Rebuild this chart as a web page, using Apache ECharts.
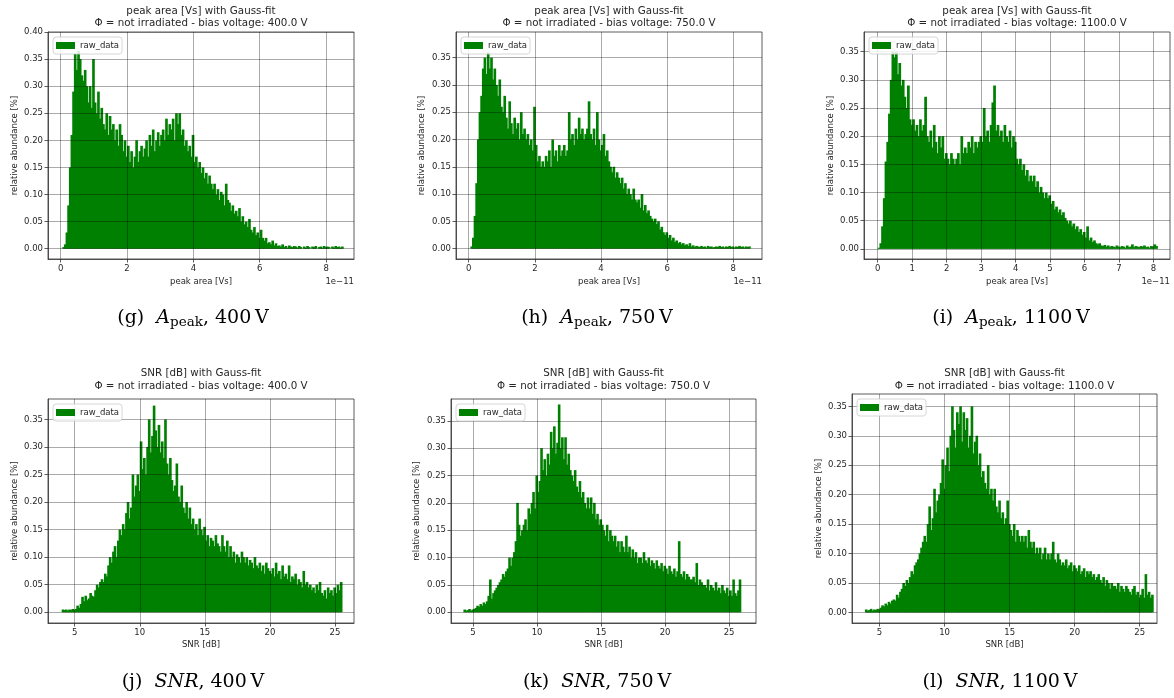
<!DOCTYPE html>
<html>
<head>
<meta charset="utf-8">
<script src="https://cdn.jsdelivr.net/npm/echarts@6/dist/echarts.min.js"></script>
<style>
  html, body { margin: 0; padding: 0; background: #fff; }
  #chart { width: 1174px; height: 698px; }
</style>
</head>
<body>
<div id="chart"></div>
<script>
// ---- histogram data: relative abundance [%] per bin ----
// peak area bins (units of 1e-11 Vs), width 0.05
const peakBinWidth = 0.05;
// SNR bins (dB), width 0.125
const snrBinWidth = 0.125;
// left edge of the first bin of each histogram (g, h, i, j, k, l)
const binStarts = [0.05, 0.05, 0.0, 4.0, 4.25, 3.875];

const peakArea400 = [
  0.003,0.008,0.03,0.08,0.15,0.21,0.29,0.36,0.33,0.365,
  0.35,0.32,0.31,0.33,0.30,0.27,0.30,0.26,0.35,0.27,
  0.25,0.29,0.24,0.26,0.23,0.22,0.25,0.21,0.245,0.22,
  0.23,0.20,0.22,0.19,0.23,0.21,0.18,0.20,0.17,0.19,
  0.16,0.18,0.15,0.17,0.20,0.16,0.18,0.19,0.17,0.185,
  0.20,0.17,0.21,0.19,0.22,0.18,0.20,0.215,0.19,0.21,
  0.22,0.20,0.24,0.21,0.23,0.22,0.24,0.20,0.25,0.23,
  0.25,0.21,0.22,0.19,0.20,0.18,0.19,0.17,0.21,0.16,
  0.17,0.15,0.16,0.14,0.15,0.13,0.14,0.12,0.135,0.12,
  0.11,0.12,0.10,0.11,0.09,0.105,0.10,0.08,0.12,0.09,
  0.085,0.07,0.08,0.065,0.07,0.06,0.075,0.05,0.06,0.045,
  0.05,0.04,0.055,0.035,0.03,0.04,0.025,0.03,0.02,0.035,
  0.02,0.015,0.02,0.01,0.012,0.008,0.015,0.006,0.01,0.005,
  0.006,0.004,0.008,0.003,0.005,0.002,0.006,0.004,0.003,0.005,
  0.004,0.002,0.005,0.003,0,0.004,0.002,0.005,0.003,0,
  0.004,0.003,0.005,0,0.003,0.004,0.002,0.005,0.003,0.004,
  0.003,0,0.004,0.002,0.005,0.003,0.004,0.002,0.004
];

const peakArea750 = [
  0.004,0.02,0.06,0.12,0.20,0.25,0.28,0.33,0.35,0.32,
  0.36,0.33,0.35,0.31,0.33,0.30,0.28,0.31,0.26,0.25,
  0.28,0.24,0.22,0.27,0.23,0.21,0.24,0.22,0.23,0.20,
  0.25,0.21,0.22,0.20,0.21,0.19,0.20,0.18,0.26,0.19,
  0.16,0.17,0.15,0.16,0.15,0.17,0.16,0.18,0.15,0.20,
  0.17,0.18,0.16,0.19,0.17,0.18,0.19,0.17,0.18,0.25,
  0.20,0.21,0.19,0.22,0.20,0.24,0.21,0.22,0.20,0.21,
  0.22,0.27,0.21,0.20,0.22,0.19,0.25,0.20,0.18,0.19,
  0.21,0.17,0.18,0.16,0.15,0.14,0.15,0.13,0.14,0.13,
  0.12,0.13,0.11,0.12,0.10,0.11,0.10,0.09,0.11,0.09,
  0.085,0.09,0.075,0.10,0.07,0.08,0.065,0.07,0.06,0.055,
  0.05,0.055,0.045,0.05,0.035,0.04,0.03,0.025,0.03,0.02,
  0.025,0.015,0.02,0.012,0.015,0.01,0.012,0.008,0.01,0.006,
  0.008,0.005,0.01,0.004,0.006,0.003,0.005,0.004,0.003,0.005,
  0.003,0.004,0.002,0.005,0.003,0.004,0.002,0.003,0.004,0.003,
  0.005,0.003,0.004,0.002,0.004,0.003,0.005,0.003,0.004,0.002,
  0.004,0.003,0.005,0.003,0.004,0.002,0.004,0.003,0.004
];

const peakArea1100 = [
  0.002,0.01,0.04,0.09,0.155,0.19,0.24,0.30,0.35,0.34,
  0.35,0.31,0.33,0.29,0.30,0.27,0.25,0.29,0.23,0.22,
  0.23,0.21,0.22,0.20,0.23,0.21,0.22,0.27,0.20,0.19,
  0.21,0.18,0.22,0.19,0.17,0.20,0.18,0.20,0.16,0.17,
  0.16,0.15,0.17,0.16,0.15,0.16,0.17,0.15,0.20,0.17,
  0.18,0.17,0.19,0.18,0.20,0.17,0.19,0.18,0.19,0.20,
  0.19,0.25,0.20,0.21,0.19,0.22,0.26,0.29,0.21,0.22,
  0.20,0.21,0.19,0.22,0.20,0.19,0.21,0.18,0.20,0.19,
  0.16,0.15,0.16,0.14,0.15,0.13,0.14,0.12,0.13,0.12,
  0.13,0.11,0.12,0.10,0.11,0.10,0.09,0.10,0.09,0.095,
  0.08,0.085,0.07,0.075,0.065,0.07,0.06,0.065,0.055,0.05,
  0.045,0.05,0.04,0.045,0.035,0.04,0.03,0.035,0.025,0.03,
  0.02,0.04,0.015,0.02,0.012,0.015,0.01,0.008,0.01,0.006,
  0.005,0.007,0.004,0.006,0.003,0.005,0.004,0.003,0.006,0.004,
  0.003,0.005,0.004,0.002,0.006,0.003,0.004,0.008,0.003,0.005,
  0.004,0.003,0.005,0.004,0.006,0.003,0.004,0.002,0.005,0.004,
  0.008,0.005
];

const snr400 = [
  0.005,0.004,0.005,0.003,0.005,0.004,0.006,0.004,
  0.006,0.012,0.008,0.015,0.028,0.02,0.03,0.022,
  0.025,0.035,0.03,0.028,0.04,0.05,0.045,0.055,
  0.06,0.055,0.07,0.065,0.085,0.10,0.09,0.11,
  0.12,0.10,0.13,0.15,0.14,0.16,0.15,0.18,
  0.20,0.17,0.19,0.25,0.21,0.23,0.25,0.22,
  0.31,0.26,0.28,0.25,0.30,0.35,0.29,0.32,
  0.375,0.33,0.30,0.34,0.29,0.31,0.28,0.35,
  0.27,0.25,0.28,0.24,0.22,0.23,0.27,0.21,
  0.20,0.23,0.19,0.18,0.20,0.17,0.19,0.16,
  0.17,0.15,0.16,0.14,0.17,0.15,0.14,0.155,
  0.13,0.14,0.12,0.135,0.13,0.12,0.14,0.125,
  0.12,0.11,0.14,0.12,0.11,0.13,0.10,0.12,
  0.10,0.11,0.09,0.105,0.10,0.09,0.11,0.10,
  0.09,0.10,0.085,0.095,0.09,0.08,0.10,0.085,
  0.08,0.09,0.075,0.085,0.07,0.09,0.08,0.075,
  0.07,0.08,0.065,0.09,0.07,0.075,0.06,0.085,
  0.065,0.07,0.06,0.085,0.055,0.065,0.06,0.07,
  0.05,0.06,0.055,0.045,0.075,0.05,0.055,0.045,
  0.05,0.04,0.045,0.035,0.05,0.04,0.055,0.035,
  0.03,0.04,0.025,0.045,0.035,0.04,0.03,0.045,
  0.035,0.05,0.04,0.055
];

const snr750 = [
  0.005,0.003,0.004,0.006,0.003,0.005,
  0.006,0.008,0.012,0.01,0.015,0.012,0.018,0.015,
  0.02,0.03,0.06,0.025,0.035,0.04,0.045,0.05,
  0.055,0.06,0.07,0.065,0.075,0.08,0.10,0.085,
  0.10,0.11,0.13,0.20,0.16,0.14,0.15,0.16,
  0.17,0.15,0.19,0.18,0.20,0.22,0.19,0.25,
  0.22,0.24,0.30,0.26,0.28,0.25,0.29,0.27,
  0.33,0.30,0.34,0.29,0.31,0.38,0.30,0.32,
  0.28,0.32,0.27,0.29,0.26,0.25,0.24,0.26,
  0.23,0.22,0.24,0.21,0.22,0.20,0.19,0.21,
  0.19,0.21,0.18,0.20,0.17,0.18,0.16,0.17,
  0.16,0.15,0.14,0.16,0.13,0.15,0.14,0.13,
  0.14,0.12,0.13,0.11,0.13,0.12,0.11,0.14,
  0.11,0.12,0.10,0.115,0.10,0.11,0.09,0.10,
  0.10,0.09,0.11,0.095,0.09,0.10,0.085,0.095,
  0.09,0.08,0.095,0.085,0.08,0.09,0.075,0.085,
  0.08,0.07,0.085,0.075,0.07,0.08,0.065,0.075,
  0.13,0.07,0.065,0.075,0.06,0.07,0.065,0.06,
  0.06,0.065,0.055,0.09,0.05,0.06,0.055,0.05,
  0.05,0.045,0.06,0.04,0.05,0.045,0.04,0.055,
  0.04,0.045,0.035,0.05,0.04,0.035,0.045,0.03,
  0.04,0.03,0.06,0.035,0.03,0.04,0.06
];

const snr1100 = [
  0.005,0.003,0.004,0.006,0.003,0.005,0.004,0.006,0.005,
  0.008,0.012,0.01,0.015,0.012,0.018,0.015,0.02,
  0.022,0.02,0.03,0.025,0.035,0.04,0.05,0.045,
  0.055,0.05,0.06,0.07,0.065,0.08,0.085,0.09,
  0.10,0.11,0.12,0.13,0.12,0.15,0.18,0.14,
  0.16,0.21,0.17,0.19,0.20,0.22,0.26,0.21,
  0.25,0.28,0.24,0.30,0.35,0.31,0.28,0.34,
  0.32,0.35,0.29,0.34,0.31,0.33,0.28,0.30,
  0.35,0.27,0.29,0.30,0.25,0.27,0.23,0.24,
  0.22,0.21,0.25,0.20,0.21,0.19,0.21,0.18,
  0.17,0.19,0.16,0.17,0.15,0.16,0.19,0.15,
  0.14,0.13,0.15,0.12,0.14,0.13,0.12,0.13,
  0.12,0.13,0.11,0.14,0.12,0.11,0.12,0.10,
  0.11,0.10,0.11,0.09,0.10,0.11,0.09,0.10,
  0.09,0.10,0.12,0.09,0.085,0.10,0.09,0.08,
  0.085,0.08,0.09,0.075,0.08,0.085,0.07,0.08,
  0.075,0.07,0.08,0.065,0.07,0.075,0.06,0.07,
  0.065,0.07,0.06,0.065,0.055,0.06,0.065,0.055,
  0.05,0.06,0.045,0.055,0.05,0.04,0.05,0.045,
  0.045,0.04,0.05,0.035,0.045,0.04,0.035,0.045,
  0.04,0.035,0.03,0.04,0.045,0.03,0.035,0.025,
  0.03,0.04,0.025,0.065,0.03,0.035,0.025,0.03
];

// ---- tick values ----
const yTickValues = [0, 0.05, 0.1, 0.15, 0.2, 0.25, 0.3, 0.35, 0.4];
const peakTicksEven = [0, 2, 4, 6, 8];
const peakTicksAll = [0, 1, 2, 3, 4, 5, 6, 7, 8];
const snrTicks = [5, 10, 15, 20, 25];

// ---- text ----
const voltages = ['400.0', '750.0', '1100.0', '400.0', '750.0', '1100.0'];
const captionLetters = ['g', 'h', 'i', 'j', 'k', 'l'];
const captionVolts = ['400', '750', '1100', '400', '750', '1100'];

// ---- panel layout (pixel boxes and axis windows) ----
const panels = [
  { values: peakArea400, start: binStarts[0], bin: peakBinWidth, kind: 'peak',
    box: [48, 32, 306, 227], xr: [-0.38, 8.84], yr: [-0.019, 0.40], xt: peakTicksEven,
    yName: 15, titleY: [11, 23.3], cap: [193, 318] },
  { values: peakArea750, start: binStarts[1], bin: peakBinWidth, kind: 'peak',
    box: [456, 32, 306, 227], xr: [-0.384, 8.87], yr: [-0.019, 0.397], xt: peakTicksEven,
    yName: 422, titleY: [11, 23.3], cap: [597, 318] },
  { values: peakArea1100, start: binStarts[2], bin: peakBinWidth, kind: 'peak',
    box: [864, 32, 306, 227], xr: [-0.398, 8.48], yr: [-0.018, 0.385], xt: peakTicksAll,
    yName: 831, titleY: [11, 23.3], cap: [1011, 318] },
  { values: snr400, start: binStarts[3], bin: snrBinWidth, kind: 'snr',
    box: [48, 399, 306, 224], xr: [2.95, 26.46], yr: [-0.0195, 0.387], xt: snrTicks,
    yName: 15, titleY: [373, 386], cap: [193, 682] },
  { values: snr750, start: binStarts[4], bin: snrBinWidth, kind: 'snr',
    box: [451, 399, 305, 224], xr: [3.28, 27.1], yr: [-0.0196, 0.39], xt: snrTicks,
    yName: 417, titleY: [373, 386], cap: [597, 682] },
  { values: snr1100, start: binStarts[5], bin: snrBinWidth, kind: 'snr',
    box: [852, 394, 305, 229], xr: [2.88, 26.33], yr: [-0.018, 0.371], xt: snrTicks,
    yName: 819, titleY: [373, 386], cap: [1000, 682] }
];

const SANS = '"DejaVu Sans", sans-serif';
const SERIF = '"DejaVu Serif", serif';
const TEXT = '#262626';
const BAR = '#008000';

// one histogram bin: [left edge, right edge, height]; the rect runs one pixel
// into its neighbour so that anti-aliased seams do not show between bins
function renderBin(params, api) {
  const left = api.coord([api.value(0), api.value(2)]);
  const right = api.coord([api.value(1), 0]);
  return {
    type: 'rect',
    shape: { x: left[0], y: left[1], width: right[0] - left[0] + 1, height: right[1] - left[1] },
    style: { fill: BAR }
  };
}

const grids = [], xAxes = [], yAxes = [], series = [], legends = [], graphics = [];

panels.forEach((p, i) => {
  const [l, t, w, h] = p.box;
  grids.push({ left: l, top: t, width: w, height: h, show: true,
    borderColor: '#333', borderWidth: 0.8, backgroundColor: 'transparent' });

  xAxes.push({
    gridIndex: i, type: 'value', min: p.xr[0], max: p.xr[1], z: 4,
    axisLine: { show: true, onZero: false, lineStyle: { color: '#333', width: 0.8 } },
    axisTick: { show: true, length: 3.5, customValues: p.xt, lineStyle: { color: '#333', width: 0.8 } },
    axisLabel: { customValues: p.xt, fontSize: 8.5, fontFamily: SANS, color: TEXT, margin: 5,
      formatter: v => String(v) },
    splitLine: { show: true, lineStyle: { color: 'rgba(0,0,0,0.42)', width: 0.8 } }
  });

  const yt = yTickValues.filter(v => v <= p.yr[1] + 1e-9);
  yAxes.push({
    gridIndex: i, type: 'value', min: p.yr[0], max: p.yr[1], z: 4,
    axisLine: { show: true, onZero: false, lineStyle: { color: '#333', width: 0.8 } },
    axisTick: { show: true, length: 3.5, customValues: yt, lineStyle: { color: '#333', width: 0.8 } },
    axisLabel: { customValues: yt, fontSize: 8.5, fontFamily: SANS, color: TEXT, margin: 5,
      formatter: v => v.toFixed(2) },
    splitLine: { show: true, lineStyle: { color: 'rgba(0,0,0,0.42)', width: 0.8 } }
  });

  series.push({
    type: 'custom', name: 'raw_data', xAxisIndex: i, yAxisIndex: i,
    itemStyle: { color: BAR },
    encode: { x: [0, 1], y: 2 },
    renderItem: renderBin,
    data: p.values.map((v, k) => [p.start + k * p.bin, p.start + (k + 1) * p.bin, v]),
    silent: true, animation: false
  });

  legends.push({
    left: l + 5, top: t + 5, data: ['raw_data'], icon: 'rect',
    itemWidth: 19, itemHeight: 7, padding: [4, 3, 4, 3],
    backgroundColor: 'rgba(255,255,255,0.85)', borderColor: '#cccccc', borderWidth: 0.8, borderRadius: 3,
    textStyle: { fontSize: 8.5, fontFamily: SANS, color: TEXT }, selectedMode: false, z: 10
  });

  const cx = l + w / 2, cy = t + h / 2;
  const heading = p.kind === 'peak' ? 'peak area [Vs] with Gauss-fit' : 'SNR [dB] with Gauss-fit';
  graphics.push(
    { type: 'text', x: cx, y: p.titleY[0], z: 20, style: { text: heading, fill: TEXT,
      font: '10.3px ' + SANS, align: 'center', verticalAlign: 'middle' } },
    { type: 'text', x: cx, y: p.titleY[1], z: 20, style: {
      text: '\u03A6 = not irradiated - bias voltage: ' + voltages[i] + ' V', fill: TEXT,
      font: '10.3px ' + SANS, align: 'center', verticalAlign: 'middle' } },
    { type: 'text', x: p.yName, y: cy, rotation: Math.PI / 2, z: 20, style: {
      text: 'relative abundance [%]', fill: TEXT, font: '8.5px ' + SANS,
      align: 'center', verticalAlign: 'middle' } },
    { type: 'text', x: cx, y: t + h + (p.kind === 'peak' ? 22.5 : 21.5), z: 20, style: {
      text: p.kind === 'peak' ? 'peak area [Vs]' : 'SNR [dB]', fill: TEXT, font: '8.5px ' + SANS,
      align: 'center', verticalAlign: 'middle' } }
  );
  if (p.kind === 'peak') {
    graphics.push({ type: 'text', x: l + w, y: t + h + 22.5, z: 20, style: {
      text: '1e\u221211', fill: TEXT, font: '8.5px ' + SANS, align: 'right', verticalAlign: 'middle' } });
  }

  // sub-figure caption
  const richCap = p.kind === 'peak'
    ? '{n|(' + captionLetters[i] + ')  }{i|A}{s|peak}{n|, ' + captionVolts[i] + '\u2009V}'
    : '{n|(' + captionLetters[i] + ')  }{i|SNR}{n|, ' + captionVolts[i] + '\u2009V}';
  graphics.push({ type: 'text', x: p.cap[0], y: p.cap[1], z: 20, style: {
    text: richCap, align: 'center', verticalAlign: 'middle',
    rich: {
      n: { fontFamily: SERIF, fontSize: 19, lineHeight: 23, color: '#111', verticalAlign: 'middle' },
      i: { fontFamily: SERIF, fontSize: 19, lineHeight: 23, fontStyle: 'italic', color: '#111', verticalAlign: 'middle' },
      s: { fontFamily: SERIF, fontSize: 13.5, lineHeight: 13.5, color: '#111', verticalAlign: 'bottom' }
    } } });
});

const chart = echarts.init(document.getElementById('chart'), null, { renderer: 'canvas' });
chart.setOption({
  animation: false,
  backgroundColor: '#ffffff',
  grid: grids,
  xAxis: xAxes,
  yAxis: yAxes,
  legend: legends,
  series: series,
  graphic: { elements: graphics }
});
</script>
</body>
</html>
